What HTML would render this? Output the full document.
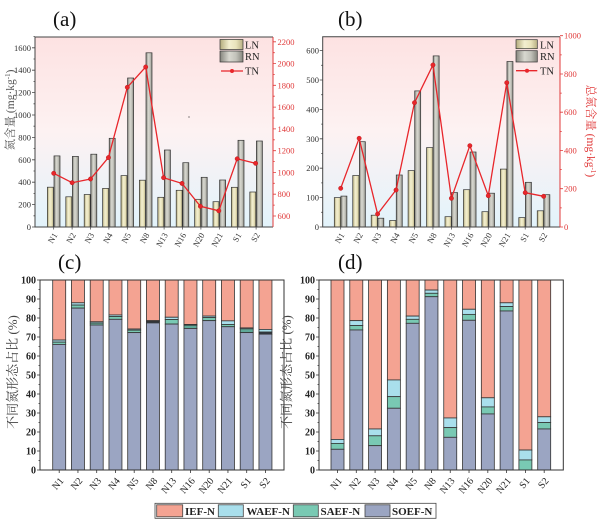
<!DOCTYPE html>
<html>
<head>
<meta charset="utf-8">
<style>
  html,body{margin:0;padding:0;background:#fff;}
  svg{display:block;}
  svg text{font-family:"Liberation Serif","Noto Serif CJK SC",serif;}
</style>
</head>
<body>
<svg width="600" height="524" viewBox="0 0 600 524" xmlns="http://www.w3.org/2000/svg" font-family="'Liberation Serif', 'Noto Serif CJK SC', serif">
<defs>
  <linearGradient id="bg" x1="0" y1="0" x2="0" y2="1">
    <stop offset="0" stop-color="#fde2e2"/>
    <stop offset="0.5" stop-color="#fdf2f2"/>
    <stop offset="1" stop-color="#e2f3fb"/>
  </linearGradient>
  <linearGradient id="ln" x1="0" y1="0" x2="1" y2="0">
    <stop offset="0" stop-color="#b3ab7c"/>
    <stop offset="0.4" stop-color="#f3efd0"/>
    <stop offset="0.7" stop-color="#e9e3bb"/>
    <stop offset="1" stop-color="#b9b084"/>
  </linearGradient>
  <linearGradient id="rn" x1="0" y1="0" x2="1" y2="0">
    <stop offset="0" stop-color="#86867e"/>
    <stop offset="0.4" stop-color="#d8d8d0"/>
    <stop offset="0.7" stop-color="#c2c2ba"/>
    <stop offset="1" stop-color="#86867e"/>
  </linearGradient>
</defs>
<rect x="0" y="0" width="600" height="524" fill="#fff"/>

<!-- ================= PANEL (a) ================= -->
<text x="53" y="26" font-size="21" fill="#111">(a)</text>
<rect x="35" y="37" width="238" height="190" fill="url(#bg)"/>
<g stroke="#333" stroke-width="0.7" fill="url(#ln)">
  <rect x="47.4" y="187.2" width="6" height="39.8"/>
  <rect x="65.8" y="196.8" width="6" height="30.2"/>
  <rect x="84.2" y="194.5" width="6" height="32.5"/>
  <rect x="102.6" y="188.4" width="6" height="38.6"/>
  <rect x="121" y="175.6" width="6" height="51.4"/>
  <rect x="139.4" y="180.2" width="6" height="46.8"/>
  <rect x="157.8" y="197.3" width="6" height="29.7"/>
  <rect x="176.2" y="190.3" width="6" height="36.7"/>
  <rect x="194.6" y="199.3" width="6" height="27.7"/>
  <rect x="213" y="201.7" width="6" height="25.3"/>
  <rect x="231.4" y="187.3" width="6" height="39.7"/>
  <rect x="249.8" y="192" width="6" height="35"/>
</g>
<g stroke="#333" stroke-width="0.7" fill="url(#rn)">
  <rect x="54" y="155.9" width="6" height="71.1"/>
  <rect x="72.4" y="156.4" width="6" height="70.6"/>
  <rect x="90.8" y="154.2" width="6" height="72.8"/>
  <rect x="109.2" y="138.3" width="6" height="88.7"/>
  <rect x="127.6" y="78" width="6" height="149"/>
  <rect x="146" y="52.8" width="6" height="174.2"/>
  <rect x="164.4" y="150" width="6" height="77"/>
  <rect x="182.8" y="162.7" width="6" height="64.3"/>
  <rect x="201.2" y="177.3" width="6" height="49.7"/>
  <rect x="219.6" y="180" width="6" height="47"/>
  <rect x="238" y="140.3" width="6" height="86.7"/>
  <rect x="256.4" y="141" width="6" height="86"/>
</g>
<polyline fill="none" stroke="#e8262b" stroke-width="1.3" points="53.7,173.3 72.1,182.7 90.5,179 108.4,157.6 127.3,87.3 145.7,67 163.6,177.7 182,183.4 200.4,206.3 218.8,210.8 237.2,158.8 255.6,163.3"/>
<g fill="#e8262b" stroke="#b01010" stroke-width="0.4">
  <circle cx="53.7" cy="173.3" r="2.2"/><circle cx="72.1" cy="182.7" r="2.2"/><circle cx="90.5" cy="179" r="2.2"/>
  <circle cx="108.4" cy="157.6" r="2.2"/><circle cx="127.3" cy="87.3" r="2.2"/><circle cx="145.7" cy="67" r="2.2"/>
  <circle cx="163.6" cy="177.7" r="2.2"/><circle cx="182" cy="183.4" r="2.2"/><circle cx="200.4" cy="206.3" r="2.2"/>
  <circle cx="218.8" cy="210.8" r="2.2"/><circle cx="237.2" cy="158.8" r="2.2"/><circle cx="255.6" cy="163.3" r="2.2"/>
</g>
<circle cx="189" cy="117" r="0.6" fill="#333"/>
<path d="M273,37 H35 V227 H273" fill="none" stroke="#444" stroke-width="1"/>
<line x1="273" y1="37" x2="273" y2="227" stroke="#e03a3a" stroke-width="1"/>
<path d="M32,227H35M32,204.6H35M32,182.2H35M32,159.8H35M32,137.4H35M32,115H35M32,92.6H35M32,70.2H35M32,47.8H35
M33.5,215.8H35M33.5,193.4H35M33.5,171H35M33.5,148.6H35M33.5,126.2H35M33.5,103.8H35M33.5,81.4H35M33.5,59H35M33.5,36.6H35" stroke="#444" stroke-width="0.8"/>
<g font-size="8.5" fill="#333" text-anchor="end">
  <text x="31" y="230">0</text><text x="31" y="207.6">200</text><text x="31" y="185.2">400</text>
  <text x="31" y="162.8">600</text><text x="31" y="140.4">800</text><text x="31" y="118">1000</text>
  <text x="31" y="95.6">1200</text><text x="31" y="73.2">1400</text><text x="31" y="50.8">1600</text>
</g>
<path d="M273,216H276M273,194.2H276M273,172.4H276M273,150.7H276M273,128.9H276M273,107.1H276M273,85.3H276M273,63.6H276M273,41.8H276
M273,205.1H274.8M273,183.3H274.8M273,161.5H274.8M273,139.8H274.8M273,118H274.8M273,96.2H274.8M273,74.4H274.8M273,52.7H274.8" stroke="#e03a3a" stroke-width="0.8"/>
<g font-size="8.5" fill="#e03a3a">
  <text x="277.5" y="219">600</text><text x="277.5" y="197.2">800</text><text x="277.5" y="175.4">1000</text>
  <text x="277.5" y="153.7">1200</text><text x="277.5" y="131.9">1400</text><text x="277.5" y="110.1">1600</text>
  <text x="277.5" y="88.3">1800</text><text x="277.5" y="66.6">2000</text><text x="277.5" y="44.8">2200</text>
</g>
<path d="M53.7,227V229.5M72.1,227V229.5M90.5,227V229.5M108.9,227V229.5M127.3,227V229.5M145.7,227V229.5M164.1,227V229.5M182.5,227V229.5M200.9,227V229.5M219.3,227V229.5M237.7,227V229.5M256.1,227V229.5" stroke="#444" stroke-width="0.7"/>
<g font-size="8.5" fill="#333" text-anchor="end">
  <text transform="translate(57.7,235) rotate(-60)">N1</text>
  <text transform="translate(76.1,235) rotate(-60)">N2</text>
  <text transform="translate(94.5,235) rotate(-60)">N3</text>
  <text transform="translate(112.9,235) rotate(-60)">N4</text>
  <text transform="translate(131.3,235) rotate(-60)">N5</text>
  <text transform="translate(149.7,235) rotate(-60)">N8</text>
  <text transform="translate(168.1,235) rotate(-60)">N13</text>
  <text transform="translate(186.5,235) rotate(-60)">N16</text>
  <text transform="translate(204.9,235) rotate(-60)">N20</text>
  <text transform="translate(223.3,235) rotate(-60)">N21</text>
  <text transform="translate(241.7,235) rotate(-60)">S1</text>
  <text transform="translate(260.1,235) rotate(-60)">S2</text>
</g>
<text transform="translate(14,110) rotate(-90)" text-anchor="middle" font-size="11.5" fill="#555">氮含量 (mg·kg<tspan font-size="7" dy="-4">-1</tspan><tspan dy="4">)</tspan></text>
<rect x="220" y="39.5" width="23" height="10" fill="url(#ln)" stroke="#333" stroke-width="0.7"/>
<rect x="220" y="51" width="23" height="11" fill="url(#rn)" stroke="#333" stroke-width="0.7"/>
<line x1="221" y1="71" x2="243" y2="71" stroke="#e8262b" stroke-width="1.3"/>
<circle cx="232" cy="71" r="2" fill="#e8262b"/>
<g font-size="10.5" fill="#222">
  <text x="245" y="48.5">LN</text><text x="245" y="60">RN</text><text x="245" y="74.5">TN</text>
</g>

<!-- ================= PANEL (b) ================= -->
<text x="338" y="26" font-size="21" fill="#111">(b)</text>
<rect x="322.7" y="36.7" width="237.3" height="190.3" fill="url(#bg)"/>
<g stroke="#333" stroke-width="0.7" fill="url(#ln)">
  <rect x="334.3" y="197.6" width="6.3" height="29.4"/>
  <rect x="352.75" y="175.5" width="6.3" height="51.5"/>
  <rect x="371.2" y="215.2" width="6.3" height="11.8"/>
  <rect x="389.65" y="220.5" width="6.3" height="6.5"/>
  <rect x="408.1" y="170.6" width="6.3" height="56.4"/>
  <rect x="426.55" y="147.6" width="6.3" height="79.4"/>
  <rect x="445" y="216.7" width="6.3" height="10.3"/>
  <rect x="463.45" y="189.7" width="6.3" height="37.3"/>
  <rect x="481.9" y="211.7" width="6.3" height="15.3"/>
  <rect x="500.35" y="169.1" width="6.3" height="57.9"/>
  <rect x="518.8" y="217.6" width="6.3" height="9.4"/>
  <rect x="537.25" y="210.8" width="6.3" height="16.2"/>
</g>
<g stroke="#333" stroke-width="0.7" fill="url(#rn)">
  <rect x="340.9" y="196.1" width="6" height="30.9"/>
  <rect x="359.35" y="141.7" width="6" height="85.3"/>
  <rect x="377.8" y="218.2" width="6" height="8.8"/>
  <rect x="396.25" y="175" width="6" height="52"/>
  <rect x="414.7" y="90.9" width="6" height="136.1"/>
  <rect x="433.15" y="55.9" width="6" height="171.1"/>
  <rect x="451.6" y="192.6" width="6" height="34.4"/>
  <rect x="470.05" y="152" width="6" height="75"/>
  <rect x="488.5" y="193.2" width="6" height="33.8"/>
  <rect x="506.95" y="61.5" width="6" height="165.5"/>
  <rect x="525.4" y="182.3" width="6" height="44.7"/>
  <rect x="543.85" y="194.7" width="6" height="32.3"/>
</g>
<polyline fill="none" stroke="#e8262b" stroke-width="1.3" points="340.7,188.3 359.15,138.3 377.6,214 396.05,190 414.5,102.7 432.95,65 451.4,198.3 469.85,145.7 488.3,195.7 506.75,82.7 525.2,192.7 543.65,196.3"/>
<g fill="#e8262b" stroke="#b01010" stroke-width="0.4">
  <circle cx="340.7" cy="188.3" r="2.2"/><circle cx="359.15" cy="138.3" r="2.2"/><circle cx="377.6" cy="214" r="2.2"/>
  <circle cx="396.05" cy="190" r="2.2"/><circle cx="414.5" cy="102.7" r="2.2"/><circle cx="432.95" cy="65" r="2.2"/>
  <circle cx="451.4" cy="198.3" r="2.2"/><circle cx="469.85" cy="145.7" r="2.2"/><circle cx="488.3" cy="195.7" r="2.2"/>
  <circle cx="506.75" cy="82.7" r="2.2"/><circle cx="525.2" cy="192.7" r="2.2"/><circle cx="543.65" cy="196.3" r="2.2"/>
</g>
<path d="M560,36.7 H322.7 V227 H560" fill="none" stroke="#444" stroke-width="1"/>
<line x1="560" y1="36.7" x2="560" y2="227" stroke="#e03a3a" stroke-width="1"/>
<path d="M319.7,227H322.7M319.7,197.6H322.7M319.7,168.2H322.7M319.7,138.8H322.7M319.7,109.4H322.7M319.7,80H322.7M319.7,50.6H322.7
M321.2,212.3H322.7M321.2,182.9H322.7M321.2,153.5H322.7M321.2,124.1H322.7M321.2,94.7H322.7M321.2,65.3H322.7" stroke="#444" stroke-width="0.8"/>
<g font-size="8.5" fill="#333" text-anchor="end">
  <text x="319" y="230">0</text><text x="319" y="200.6">100</text><text x="319" y="171.2">200</text>
  <text x="319" y="141.8">300</text><text x="319" y="112.4">400</text><text x="319" y="83">500</text>
  <text x="319" y="53.6">600</text>
</g>
<path d="M560,227H563M560,188.7H563M560,150.5H563M560,112.2H563M560,74H563M560,35.7H563
M560,207.9H561.8M560,169.6H561.8M560,131.4H561.8M560,93.1H561.8M560,54.9H561.8" stroke="#e03a3a" stroke-width="0.8"/>
<g font-size="8.5" fill="#e03a3a">
  <text x="564" y="230">0</text><text x="564" y="191.7">200</text><text x="564" y="153.5">400</text>
  <text x="564" y="115.2">600</text><text x="564" y="77">800</text><text x="564" y="38.7">1000</text>
</g>
<path d="M340.7,227V229.5M359.15,227V229.5M377.6,227V229.5M396.05,227V229.5M414.5,227V229.5M432.95,227V229.5M451.4,227V229.5M469.85,227V229.5M488.3,227V229.5M506.75,227V229.5M525.2,227V229.5M543.65,227V229.5" stroke="#444" stroke-width="0.7"/>
<g font-size="8.5" fill="#333" text-anchor="end">
  <text transform="translate(344.7,235) rotate(-60)">N1</text>
  <text transform="translate(363.15,235) rotate(-60)">N2</text>
  <text transform="translate(381.6,235) rotate(-60)">N3</text>
  <text transform="translate(400.05,235) rotate(-60)">N4</text>
  <text transform="translate(418.5,235) rotate(-60)">N5</text>
  <text transform="translate(436.95,235) rotate(-60)">N8</text>
  <text transform="translate(455.4,235) rotate(-60)">N13</text>
  <text transform="translate(473.85,235) rotate(-60)">N16</text>
  <text transform="translate(492.3,235) rotate(-60)">N20</text>
  <text transform="translate(510.75,235) rotate(-60)">N21</text>
  <text transform="translate(529.2,235) rotate(-60)">S1</text>
  <text transform="translate(547.65,235) rotate(-60)">S2</text>
</g>
<text transform="translate(587,131) rotate(90)" text-anchor="middle" font-size="11.5" fill="#e03a3a">总氮含量 (mg·kg<tspan font-size="7" dy="-4">-1</tspan><tspan dy="4">)</tspan></text>
<rect x="516" y="39.7" width="21.3" height="9" fill="url(#ln)" stroke="#333" stroke-width="0.7"/>
<rect x="516" y="50.7" width="21.3" height="11.3" fill="url(#rn)" stroke="#333" stroke-width="0.7"/>
<line x1="516" y1="70.7" x2="537.3" y2="70.7" stroke="#e8262b" stroke-width="1.3"/>
<circle cx="527" cy="70.7" r="2" fill="#e8262b"/>
<g font-size="10.5" fill="#222">
  <text x="540" y="48.5">LN</text><text x="540" y="60">RN</text><text x="540" y="74.5">TN</text>
</g>

<!-- ================= PANEL (c) ================= -->
<text x="58" y="269" font-size="21" fill="#111">(c)</text>
<g stroke="#333" stroke-width="0.8">
  <rect x="52.7" y="280" width="13" height="60.04" fill="#f4a392"/>
  <rect x="52.7" y="340.04" width="13" height="2.09" fill="#a9dfec"/>
  <rect x="52.7" y="342.13" width="13" height="2.28" fill="#79c9b3"/>
  <rect x="52.7" y="344.41" width="13" height="125.59" fill="#9ba5c2"/>
  <rect x="71.45" y="280" width="13" height="22.8" fill="#f4a392"/>
  <rect x="71.45" y="302.8" width="13" height="2.28" fill="#a9dfec"/>
  <rect x="71.45" y="305.08" width="13" height="3.04" fill="#79c9b3"/>
  <rect x="71.45" y="308.12" width="13" height="161.88" fill="#9ba5c2"/>
  <rect x="90.2" y="280" width="13" height="41.8" fill="#f4a392"/>
  <rect x="90.2" y="321.8" width="13" height="1.33" fill="#a9dfec"/>
  <rect x="90.2" y="323.13" width="13" height="1.9" fill="#79c9b3"/>
  <rect x="90.2" y="325.03" width="13" height="144.97" fill="#9ba5c2"/>
  <rect x="108.95" y="280" width="13" height="34.96" fill="#f4a392"/>
  <rect x="108.95" y="314.96" width="13" height="1.52" fill="#a9dfec"/>
  <rect x="108.95" y="316.48" width="13" height="2.85" fill="#79c9b3"/>
  <rect x="108.95" y="319.33" width="13" height="150.67" fill="#9ba5c2"/>
  <rect x="127.7" y="280" width="13" height="49.02" fill="#f4a392"/>
  <rect x="127.7" y="329.02" width="13" height="1.14" fill="#a9dfec"/>
  <rect x="127.7" y="330.16" width="13" height="2.47" fill="#79c9b3"/>
  <rect x="127.7" y="332.63" width="13" height="137.37" fill="#9ba5c2"/>
  <rect x="146.45" y="280" width="13" height="40.66" fill="#f4a392"/>
  <rect x="146.45" y="320.66" width="13" height="0.76" fill="#a9dfec"/>
  <rect x="146.45" y="321.42" width="13" height="1.52" fill="#2f3a44"/>
  <rect x="146.45" y="322.94" width="13" height="147.06" fill="#9ba5c2"/>
  <rect x="165.2" y="280" width="13" height="37.24" fill="#f4a392"/>
  <rect x="165.2" y="317.24" width="13" height="2.28" fill="#a9dfec"/>
  <rect x="165.2" y="319.52" width="13" height="4.56" fill="#79c9b3"/>
  <rect x="165.2" y="324.08" width="13" height="145.92" fill="#9ba5c2"/>
  <rect x="183.95" y="280" width="13" height="44.46" fill="#f4a392"/>
  <rect x="183.95" y="324.46" width="13" height="0.76" fill="#a9dfec"/>
  <rect x="183.95" y="325.22" width="13" height="3.23" fill="#5fa898"/>
  <rect x="183.95" y="328.45" width="13" height="141.55" fill="#9ba5c2"/>
  <rect x="202.7" y="280" width="13" height="36.1" fill="#f4a392"/>
  <rect x="202.7" y="316.1" width="13" height="1.52" fill="#a9dfec"/>
  <rect x="202.7" y="317.62" width="13" height="3.04" fill="#79c9b3"/>
  <rect x="202.7" y="320.66" width="13" height="149.34" fill="#9ba5c2"/>
  <rect x="221.45" y="280" width="13" height="40.85" fill="#f4a392"/>
  <rect x="221.45" y="320.85" width="13" height="3.61" fill="#a9dfec"/>
  <rect x="221.45" y="324.46" width="13" height="2.28" fill="#79c9b3"/>
  <rect x="221.45" y="326.74" width="13" height="143.26" fill="#9ba5c2"/>
  <rect x="240.2" y="280" width="13" height="47.88" fill="#f4a392"/>
  <rect x="240.2" y="327.88" width="13" height="0.95" fill="#a9dfec"/>
  <rect x="240.2" y="328.83" width="13" height="3.8" fill="#5fa898"/>
  <rect x="240.2" y="332.63" width="13" height="137.37" fill="#9ba5c2"/>
  <rect x="258.95" y="280" width="13" height="49.4" fill="#f4a392"/>
  <rect x="258.95" y="329.4" width="13" height="2.66" fill="#a9dfec"/>
  <rect x="258.95" y="332.06" width="13" height="2.09" fill="#2f3a44"/>
  <rect x="258.95" y="334.15" width="13" height="135.85" fill="#9ba5c2"/>
</g>
<rect x="40" y="280" width="244" height="190" fill="none" stroke="#333" stroke-width="1"/>
<path d="M37,470H40M37,451H40M37,432H40M37,413H40M37,394H40M37,375H40M37,356H40M37,337H40M37,318H40M37,299H40M37,280H40
M38.5,460.5H40M38.5,441.5H40M38.5,422.5H40M38.5,403.5H40M38.5,384.5H40M38.5,365.5H40M38.5,346.5H40M38.5,327.5H40M38.5,308.5H40M38.5,289.5H40
M59.2,470V473M77.95,470V473M96.7,470V473M115.45,470V473M134.2,470V473M152.95,470V473M171.7,470V473M190.45,470V473M209.2,470V473M227.95,470V473M246.7,470V473M265.45,470V473" stroke="#333" stroke-width="0.8"/>
<g font-size="10" font-weight="bold" fill="#222" text-anchor="end">
  <text x="36" y="473.5">0</text><text x="36" y="454.5">10</text><text x="36" y="435.5">20</text>
  <text x="36" y="416.5">30</text><text x="36" y="397.5">40</text><text x="36" y="378.5">50</text>
  <text x="36" y="359.5">60</text><text x="36" y="340.5">70</text><text x="36" y="321.5">80</text>
  <text x="36" y="302.5">90</text><text x="36" y="283.5">100</text>
</g>
<g font-size="10" fill="#222" text-anchor="end">
  <text transform="translate(64.2,481) rotate(-50)">N1</text>
  <text transform="translate(82.95,481) rotate(-50)">N2</text>
  <text transform="translate(101.7,481) rotate(-50)">N3</text>
  <text transform="translate(120.45,481) rotate(-50)">N4</text>
  <text transform="translate(139.2,481) rotate(-50)">N5</text>
  <text transform="translate(157.95,481) rotate(-50)">N8</text>
  <text transform="translate(176.7,481) rotate(-50)">N13</text>
  <text transform="translate(195.45,481) rotate(-50)">N16</text>
  <text transform="translate(214.2,481) rotate(-50)">N20</text>
  <text transform="translate(232.95,481) rotate(-50)">N21</text>
  <text transform="translate(251.7,481) rotate(-50)">S1</text>
  <text transform="translate(270.45,481) rotate(-50)">S2</text>
</g>
<text transform="translate(17,372) rotate(-90)" text-anchor="middle" font-size="13" fill="#444">不同氮形态占比 (%)</text>

<!-- ================= PANEL (d) ================= -->
<text x="338" y="269" font-size="21" fill="#111">(d)</text>
<g stroke="#333" stroke-width="0.8">
  <rect x="331" y="280" width="13" height="159.41" fill="#f4a392"/>
  <rect x="331" y="439.41" width="13" height="3.99" fill="#a9dfec"/>
  <rect x="331" y="443.4" width="13" height="5.89" fill="#79c9b3"/>
  <rect x="331" y="449.29" width="13" height="20.71" fill="#9ba5c2"/>
  <rect x="349.79" y="280" width="13" height="40.66" fill="#f4a392"/>
  <rect x="349.79" y="320.66" width="13" height="4.94" fill="#a9dfec"/>
  <rect x="349.79" y="325.6" width="13" height="4.37" fill="#79c9b3"/>
  <rect x="349.79" y="329.97" width="13" height="140.03" fill="#9ba5c2"/>
  <rect x="368.58" y="280" width="13" height="148.96" fill="#f4a392"/>
  <rect x="368.58" y="428.96" width="13" height="6.84" fill="#a9dfec"/>
  <rect x="368.58" y="435.8" width="13" height="9.88" fill="#79c9b3"/>
  <rect x="368.58" y="445.68" width="13" height="24.32" fill="#9ba5c2"/>
  <rect x="387.37" y="280" width="13" height="99.94" fill="#f4a392"/>
  <rect x="387.37" y="379.94" width="13" height="16.72" fill="#a9dfec"/>
  <rect x="387.37" y="396.66" width="13" height="11.59" fill="#79c9b3"/>
  <rect x="387.37" y="408.25" width="13" height="61.75" fill="#9ba5c2"/>
  <rect x="406.16" y="280" width="13" height="36.1" fill="#f4a392"/>
  <rect x="406.16" y="316.1" width="13" height="3.23" fill="#a9dfec"/>
  <rect x="406.16" y="319.33" width="13" height="3.99" fill="#79c9b3"/>
  <rect x="406.16" y="323.32" width="13" height="146.68" fill="#9ba5c2"/>
  <rect x="424.95" y="280" width="13" height="10.07" fill="#f4a392"/>
  <rect x="424.95" y="290.07" width="13" height="3.23" fill="#a9dfec"/>
  <rect x="424.95" y="293.3" width="13" height="3.42" fill="#79c9b3"/>
  <rect x="424.95" y="296.72" width="13" height="173.28" fill="#9ba5c2"/>
  <rect x="443.74" y="280" width="13" height="137.94" fill="#f4a392"/>
  <rect x="443.74" y="417.94" width="13" height="9.69" fill="#a9dfec"/>
  <rect x="443.74" y="427.63" width="13" height="9.69" fill="#79c9b3"/>
  <rect x="443.74" y="437.32" width="13" height="32.68" fill="#9ba5c2"/>
  <rect x="462.53" y="280" width="13" height="29.26" fill="#f4a392"/>
  <rect x="462.53" y="309.26" width="13" height="5.13" fill="#a9dfec"/>
  <rect x="462.53" y="314.39" width="13" height="5.89" fill="#79c9b3"/>
  <rect x="462.53" y="320.28" width="13" height="149.72" fill="#9ba5c2"/>
  <rect x="481.32" y="280" width="13" height="117.8" fill="#f4a392"/>
  <rect x="481.32" y="397.8" width="13" height="9.12" fill="#a9dfec"/>
  <rect x="481.32" y="406.92" width="13" height="7.03" fill="#79c9b3"/>
  <rect x="481.32" y="413.95" width="13" height="56.05" fill="#9ba5c2"/>
  <rect x="500.11" y="280" width="13" height="22.8" fill="#f4a392"/>
  <rect x="500.11" y="302.8" width="13" height="3.8" fill="#a9dfec"/>
  <rect x="500.11" y="306.6" width="13" height="4.37" fill="#79c9b3"/>
  <rect x="500.11" y="310.97" width="13" height="159.03" fill="#9ba5c2"/>
  <rect x="518.9" y="280" width="13" height="170.05" fill="#f4a392"/>
  <rect x="518.9" y="450.05" width="13" height="9.88" fill="#a9dfec"/>
  <rect x="518.9" y="459.93" width="13" height="10.07" fill="#79c9b3"/>
  <rect x="537.69" y="280" width="13" height="136.8" fill="#f4a392"/>
  <rect x="537.69" y="416.8" width="13" height="5.7" fill="#a9dfec"/>
  <rect x="537.69" y="422.5" width="13" height="6.46" fill="#79c9b3"/>
  <rect x="537.69" y="428.96" width="13" height="41.04" fill="#9ba5c2"/>
</g>
<rect x="319" y="280" width="244.3" height="190" fill="none" stroke="#333" stroke-width="1"/>
<path d="M316,470H319M316,451H319M316,432H319M316,413H319M316,394H319M316,375H319M316,356H319M316,337H319M316,318H319M316,299H319M316,280H319
M317.5,460.5H319M317.5,441.5H319M317.5,422.5H319M317.5,403.5H319M317.5,384.5H319M317.5,365.5H319M317.5,346.5H319M317.5,327.5H319M317.5,308.5H319M317.5,289.5H319
M337.5,470V473M356.29,470V473M375.08,470V473M393.87,470V473M412.66,470V473M431.45,470V473M450.24,470V473M469.03,470V473M487.82,470V473M506.61,470V473M525.4,470V473M544.19,470V473" stroke="#333" stroke-width="0.8"/>
<g font-size="10" font-weight="bold" fill="#222" text-anchor="end">
  <text x="315" y="473.5">0</text><text x="315" y="454.5">10</text><text x="315" y="435.5">20</text>
  <text x="315" y="416.5">30</text><text x="315" y="397.5">40</text><text x="315" y="378.5">50</text>
  <text x="315" y="359.5">60</text><text x="315" y="340.5">70</text><text x="315" y="321.5">80</text>
  <text x="315" y="302.5">90</text><text x="315" y="283.5">100</text>
</g>
<g font-size="10" fill="#222" text-anchor="end">
  <text transform="translate(342.5,481) rotate(-50)">N1</text>
  <text transform="translate(361.29,481) rotate(-50)">N2</text>
  <text transform="translate(380.08,481) rotate(-50)">N3</text>
  <text transform="translate(398.87,481) rotate(-50)">N4</text>
  <text transform="translate(417.66,481) rotate(-50)">N5</text>
  <text transform="translate(436.45,481) rotate(-50)">N8</text>
  <text transform="translate(455.24,481) rotate(-50)">N13</text>
  <text transform="translate(474.03,481) rotate(-50)">N16</text>
  <text transform="translate(492.82,481) rotate(-50)">N20</text>
  <text transform="translate(511.61,481) rotate(-50)">N21</text>
  <text transform="translate(530.4,481) rotate(-50)">S1</text>
  <text transform="translate(549.19,481) rotate(-50)">S2</text>
</g>
<text transform="translate(291,372) rotate(-90)" text-anchor="middle" font-size="13" fill="#444">不同氮形态占比 (%)</text>

<!-- ================= bottom legend ================= -->
<rect x="155" y="503.3" width="281" height="15" fill="#fff" stroke="#444" stroke-width="0.8"/>
<g stroke="#444" stroke-width="0.8">
  <rect x="156.7" y="504.8" width="26" height="12" fill="#f4a392"/>
  <rect x="218.3" y="504.8" width="25" height="12" fill="#a9dfec"/>
  <rect x="293.3" y="504.8" width="25" height="12" fill="#79c9b3"/>
  <rect x="365" y="504.8" width="25" height="12" fill="#9ba5c2"/>
</g>
<g font-size="11" font-weight="bold" fill="#222">
  <text x="185" y="515">IEF-N</text>
  <text x="246.5" y="515">WAEF-N</text>
  <text x="320.5" y="515">SAEF-N</text>
  <text x="392" y="515">SOEF-N</text>
</g>
</svg>
</body>
</html>
